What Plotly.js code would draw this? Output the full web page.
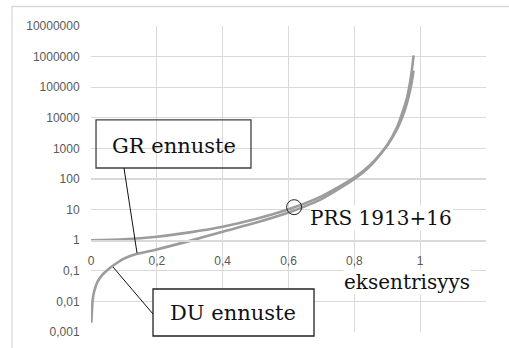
<!DOCTYPE html>
<html>
<head>
<meta charset="utf-8">
<script src="https://cdn.plot.ly/plotly-3.0.1.min.js"></script>
<style>html,body{margin:0;padding:0;background:#fff;}#chart{width:509px;height:348px;}</style>
</head>
<body>
<div id="chart"></div>
<script>
// GR prediction (eccentricity -> value)
const eGR = [0, 0.1, 0.2, 0.3, 0.4, 0.5, 0.6, 0.7, 0.8, 0.85, 0.9, 0.93, 0.95, 0.96, 0.97, 0.975, 0.98];
const vGR = [1, 1.07, 1.3, 1.8, 2.75, 4.9, 10.2, 27, 111, 300, 1250, 4300, 14000, 30600, 84000, 159000, 347000];
// DU prediction
const eDU = [0.001, 0.005, 0.01, 0.02, 0.035, 0.05, 0.075, 0.1, 0.14, 0.2, 0.3, 0.4, 0.5, 0.6, 0.7, 0.8, 0.85, 0.9, 0.93, 0.95, 0.96, 0.97, 0.975, 0.98];
const vDU = [0.002, 0.011, 0.022, 0.044, 0.075, 0.107, 0.17, 0.25, 0.36, 0.5, 0.95, 1.9, 3.7, 8, 22, 100, 280, 1300, 5000, 20000, 45000, 160000, 380000, 1100000];
// PRS 1913+16 marker
const prsE = [0.617];
const prsV = [12];
// tick labels
const xTickVals = [0, 0.2, 0.4, 0.6, 0.8, 1, 1.2];
const xTickText = ['0', '0,2', '0,4', '0,6', '0,8', '1', ''];
const yTickVals = [0.001, 0.01, 0.1, 1, 10, 100, 1000, 10000, 100000, 1000000, 10000000];
const yTickText = ['0,001', '0,01', '0,1', '1', '10', '100', '1000', '10000', '100000', '1000000', '10000000'];

const lineStyle = {color: '#9c9c9c', width: 2.6, shape: 'spline', smoothing: 0.6};
const traces = [
  {x: eGR, y: vGR, mode: 'lines', line: lineStyle, name: 'GR ennuste', hoverinfo: 'skip'},
  {x: eDU, y: vDU, mode: 'lines', line: lineStyle, name: 'DU ennuste', hoverinfo: 'skip'},
  {x: prsE, y: prsV, mode: 'markers', marker: {symbol: 'circle-open', size: 15, color: '#222', line: {width: 1, color: '#222'}}, name: 'PRS 1913+16', hoverinfo: 'skip'}
];

const serif = {family: 'DejaVu Serif', size: 21, color: '#111'};
const serifS = {family: 'DejaVu Serif', size: 20, color: '#111'};
const sans = {family: 'Liberation Sans', size: 12, color: '#595959'};
const gridC = '#d9d9d9';
const layout = {
  width: 509, height: 348,
  margin: {l: 91, r: 23, t: 26, b: 16},
  paper_bgcolor: '#fff', plot_bgcolor: '#fff',
  showlegend: false,
  xaxis: {
    range: [0, 1.2], tickvals: xTickVals, ticktext: xTickText,
    showgrid: true, gridcolor: gridC, gridwidth: 1.3, zeroline: false,
    anchor: 'free', position: 0.3, showline: true, linecolor: gridC, linewidth: 1.3,
    ticks: 'outside', ticklen: 9, tickcolor: 'rgba(0,0,0,0)',
    tickfont: sans
  },
  yaxis: {
    type: 'log', range: [-3, 7], tickvals: yTickVals, ticktext: yTickText,
    showgrid: true, gridcolor: gridC, gridwidth: 1.3, zeroline: false, showline: false,
    ticks: 'outside', ticklen: 8, tickcolor: 'rgba(0,0,0,0)',
    tickfont: sans
  },
  shapes: [
    {type: 'rect', xref: 'paper', yref: 'paper', x0: -0.2, x1: 1.2, y0: -0.2, y1: 1.0637, line: {color: '#d9d9d9', width: 1.3}, fillcolor: 'rgba(0,0,0,0)', layer: 'below'},
    {type: 'rect', xref: 'paper', yref: 'paper', x0: 0.992, x1: 1.006, y0: 0.209, y1: 0.278, line: {width: 0}, fillcolor: '#fff', layer: 'above'},
    {type: 'rect', xref: 'paper', yref: 'paper', x0: 0.0127, x1: 0.405, y0: 0.536, y1: 0.693, line: {color: '#404040', width: 1.3}, fillcolor: 'rgba(0,0,0,0)', layer: 'above'},
    {type: 'line', xref: 'paper', yref: 'paper', x0: 0.0835, y0: 0.536, x1: 0.1165, y1: 0.258, line: {color: '#111', width: 1}, layer: 'above'},
    {type: 'rect', xref: 'paper', yref: 'paper', x0: 0.157, x1: 0.5646, y0: -0.013, y1: 0.1405, line: {color: '#222', width: 1.3}, fillcolor: '#fff', layer: 'above'},
    {type: 'line', xref: 'paper', yref: 'paper', x0: 0.157, y0: 0.0588, x1: 0.0557, y1: 0.2124, line: {color: '#111', width: 1}, layer: 'above'}
  ],
  annotations: [
    {xref: 'paper', yref: 'paper', x: 0.2089, y: 0.608, text: 'GR ennuste', showarrow: false, font: serif, xanchor: 'center', yanchor: 'middle'},
    {xref: 'paper', yref: 'paper', x: 0.3595, y: 0.0637, text: 'DU ennuste', showarrow: false, font: serif, xanchor: 'center', yanchor: 'middle'},
    {xref: 'paper', yref: 'paper', x: 0.733, y: 0.3725, text: 'PRS 1913+16', showarrow: false, font: serifS, xanchor: 'center', yanchor: 'middle', bgcolor: '#fff', borderpad: 0},
    {xref: 'paper', yref: 'paper', x: 0.8, y: 0.163, text: 'eksentrisyys', showarrow: false, font: serifS, xanchor: 'center', yanchor: 'middle', bgcolor: '#fff', borderpad: 0}
  ]
};

Plotly.newPlot('chart', traces, layout, {staticPlot: true, displayModeBar: false});
</script>
</body>
</html>
